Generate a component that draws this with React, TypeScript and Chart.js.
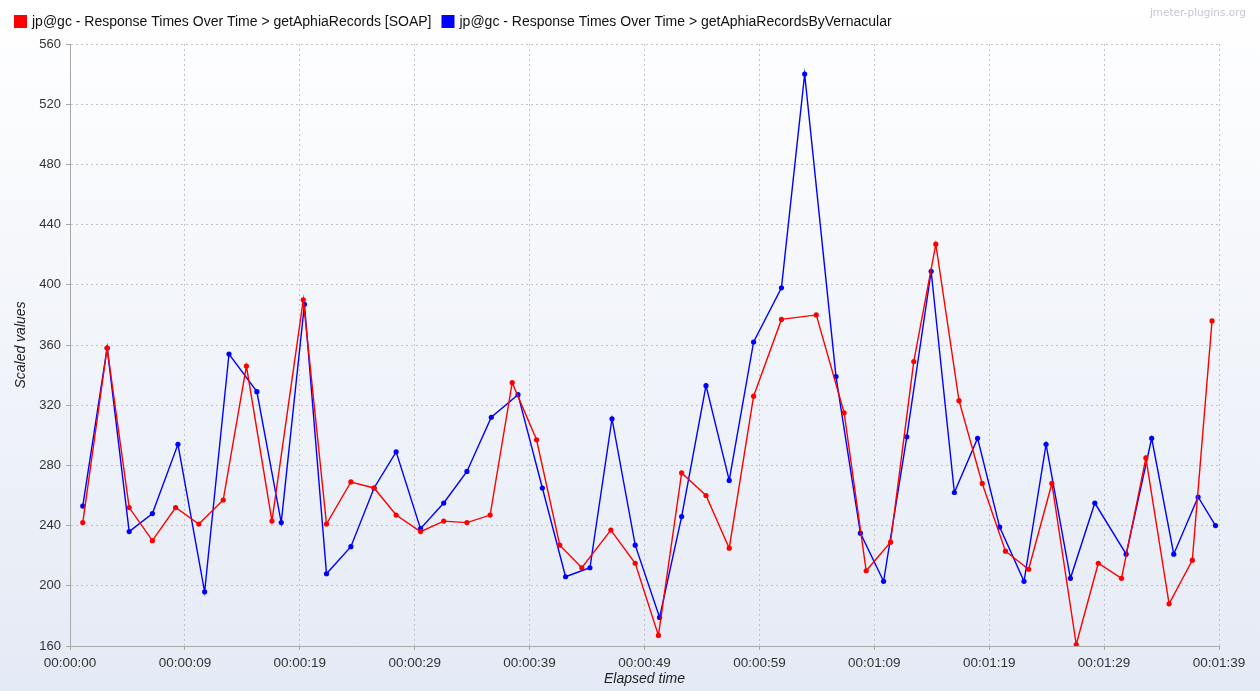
import React, { useEffect, useRef } from 'react';
import { Chart, registerables } from 'chart.js';

Chart.register(...registerables);

const seriesNames = [
  'jp@gc - Response Times Over Time > getAphiaRecords [SOAP]',
  'jp@gc - Response Times Over Time > getAphiaRecordsByVernacular',
];

const redTimes = [1.1, 3.2, 5.1, 7.1, 9.1, 11.1, 13.2, 15.2, 17.4, 20.1, 22.1, 24.2, 26.2, 28.1, 30.2, 32.2, 34.2, 36.2, 38.1, 40.2, 42.2, 44.1, 46.6, 48.7, 50.7, 52.7, 54.8, 56.8, 58.9, 61.3, 64.3, 66.7, 68.6, 70.7, 72.7, 74.6, 76.6, 78.6, 80.6, 82.6, 84.6, 86.7, 88.6, 90.6, 92.7, 94.7, 96.7, 98.4];
const redValues = [242, 358, 252, 230, 252, 241, 257, 346, 243, 390, 241, 269, 265, 247, 236, 243, 242, 247, 335, 297, 227, 212, 237, 215, 167, 275, 260, 225, 326, 377, 380, 315, 210, 229, 349, 427, 323, 268, 223, 211, 268, 161, 215, 205, 285, 188, 217, 376];

const blueTimes = [1.1, 3.2, 5.1, 7.1, 9.3, 11.6, 13.7, 16.1, 18.2, 20.2, 22.1, 24.2, 26.2, 28.1, 30.2, 32.2, 34.2, 36.3, 38.6, 40.7, 42.7, 44.8, 46.7, 48.7, 50.8, 52.7, 54.8, 56.8, 58.9, 61.3, 63.3, 66.0, 68.1, 70.1, 72.1, 74.2, 76.2, 78.2, 80.1, 82.2, 84.1, 86.2, 88.3, 91.0, 93.2, 95.1, 97.2, 98.7];
const blueValues = [253, 358, 236, 248, 294, 196, 354, 329, 242, 387, 208, 226, 265, 289, 238, 255, 276, 312, 327, 265, 206, 212, 311, 227, 179, 246, 333, 270, 362, 398, 540, 339, 235, 203, 299, 409, 262, 298, 239, 203, 294, 205, 255, 221, 298, 221, 259, 240];

const xTickSeconds = [0, 9.9, 19.8, 29.7, 39.6, 49.5, 59.4, 69.3, 79.2, 89.1, 99];
const yTicks = [160, 200, 240, 280, 320, 360, 400, 440, 480, 520, 560];

const W = 1260;
const H = 691;
const FONT = '"Liberation Sans", Arial, sans-serif';

const fmt = (s: number) => {
  const t = Math.floor(s + 1e-6);
  const h = Math.floor(t / 3600);
  const m = Math.floor(t / 60) % 60;
  const sec = t % 60;
  return [h, m, sec].map((v) => String(v).padStart(2, '0')).join(':');
};

const bgPlugin = {
  id: 'bg',
  beforeDraw(chart: any) {
    const ctx = chart.ctx;
    const g = ctx.createLinearGradient(0, 0, 0, chart.height);
    g.addColorStop(0, '#ffffff');
    g.addColorStop(1, '#e4eaf5');
    ctx.save();
    ctx.fillStyle = g;
    ctx.fillRect(0, 0, chart.width, chart.height);
    ctx.restore();
  },
};

const legendPlugin = {
  id: 'customLegend',
  afterDraw(chart: any) {
    const ctx = chart.ctx;
    ctx.save();
    ctx.font = `14px ${FONT}`;
    ctx.textBaseline = 'middle';
    const colors = ['#ff0000', '#0000ff'];
    let x = 14;
    const y = 22;
    seriesNames.forEach((name, i) => {
      ctx.fillStyle = colors[i];
      ctx.fillRect(x, 15, 13, 13);
      ctx.fillStyle = '#111';
      ctx.fillText(name, x + 18, y);
      x += 18 + ctx.measureText(name).width + 10;
    });
    ctx.font = `10.5px "DejaVu Sans", sans-serif`;
    ctx.fillStyle = '#c3c8d0';
    ctx.textAlign = 'right';
    ctx.fillText('jmeter-plugins.org', 1246, 13);
    ctx.restore();
  },
};

export default function App() {
  const ref = useRef<HTMLCanvasElement | null>(null);

  useEffect(() => {
    document.body.style.margin = '0';
    const canvas = ref.current;
    if (!canvas) return;
    const chart = new Chart(canvas, {
      type: 'line',
      data: {
        datasets: [
          {
            label: seriesNames[0],
            data: redTimes.map((t, i) => ({ x: t, y: redValues[i] })),
            borderColor: '#ff0000',
            backgroundColor: '#ff0000',
            borderWidth: 1.4,
            pointRadius: 2.6,
            pointBorderWidth: 0,
            tension: 0,
          },
          {
            label: seriesNames[1],
            data: blueTimes.map((t, i) => ({ x: t, y: blueValues[i] })),
            borderColor: '#0000ff',
            backgroundColor: '#0000ff',
            borderWidth: 1.4,
            pointRadius: 2.6,
            pointBorderWidth: 0,
            tension: 0,
          },
        ],
      },
      options: {
        animation: false,
        responsive: false,
        devicePixelRatio: 1,
        events: [],
        layout: { padding: { top: 44, left: 8, right: 41, bottom: 0 } },
        plugins: {
          legend: { display: false },
          tooltip: { enabled: false },
        },
        scales: {
          x: {
            type: 'linear',
            min: 0,
            max: 99,
            afterBuildTicks: (scale: any) => {
              scale.ticks = xTickSeconds.map((v) => ({ value: v }));
            },
            afterFit: (scale: any) => {
              scale.height = 45;
            },
            ticks: {
              autoSkip: false,
              maxRotation: 0,
              padding: 5,
              color: '#333',
              font: { family: FONT, size: 13.5 },
              callback: (v: any) => fmt(Number(v)),
            },
            grid: {
              color: '#c4c4c4',
              tickColor: '#a8a8a8',
              tickLength: 4,
              lineWidth: 1,
            },
            border: { color: '#a8a8a8', dash: [2, 3] },
            title: {
              display: true,
              text: 'Elapsed time',
              color: '#222',
              font: { family: FONT, size: 14, style: 'italic' },
              padding: { top: 0, bottom: 3 },
            },
          },
          y: {
            min: 160,
            max: 560,
            afterBuildTicks: (scale: any) => {
              scale.ticks = yTicks.map((v) => ({ value: v }));
            },
            afterFit: (scale: any) => {
              scale.width = 62;
            },
            ticks: {
              padding: 5,
              color: '#333',
              font: { family: FONT, size: 13 },
            },
            grid: {
              color: '#c4c4c4',
              tickColor: '#a8a8a8',
              tickLength: 4,
              lineWidth: 1,
            },
            border: { color: '#a8a8a8', dash: [2, 3] },
            title: {
              display: true,
              text: 'Scaled values',
              color: '#222',
              font: { family: FONT, size: 14, style: 'italic' },
              padding: { top: 5, bottom: 4 },
            },
          },
        },
      } as any,
      plugins: [bgPlugin, legendPlugin],
    });
    return () => chart.destroy();
  }, []);

  return <canvas ref={ref} width={W} height={H} style={{ display: 'block', width: W, height: H }} />;
}
